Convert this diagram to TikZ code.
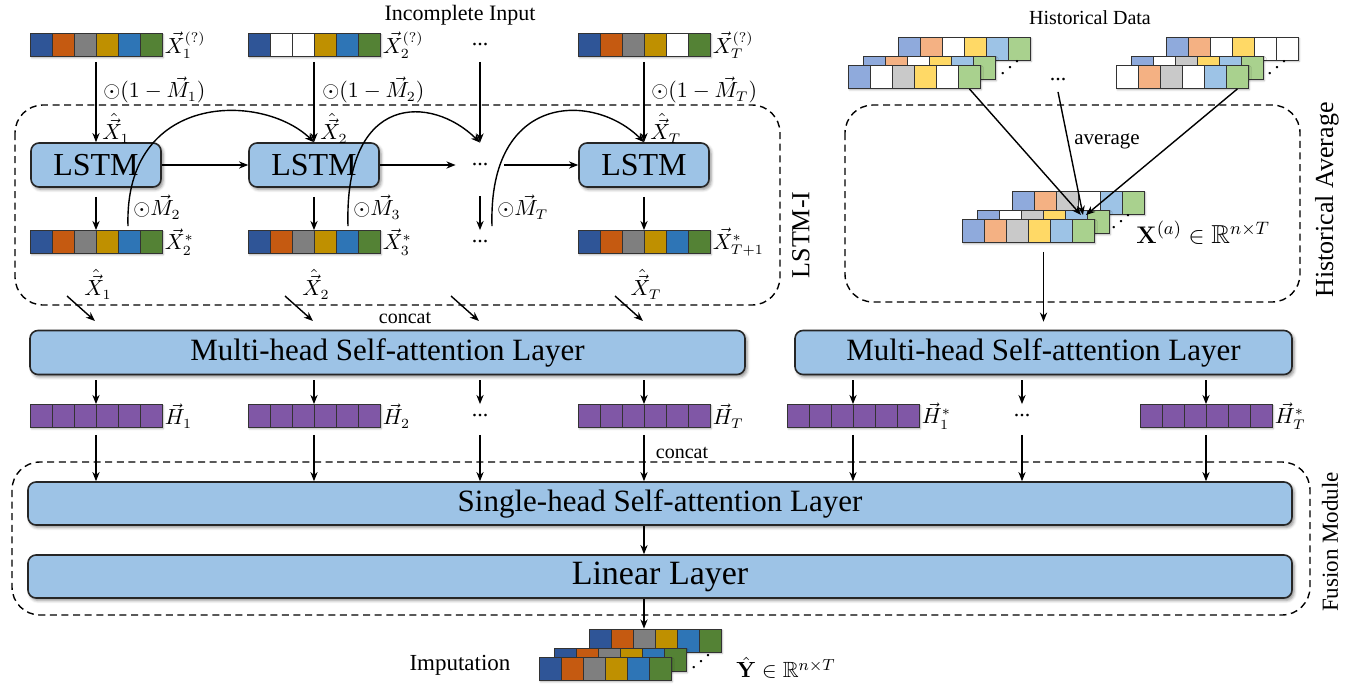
\documentclass[tikz,border=0pt]{standalone}
\usepackage{amsmath}
\usepackage{amssymb}
\usepackage[no-math]{fontspec}
\setmainfont{Liberation Serif}
\usepackage{tikz}
\usetikzlibrary{arrows.meta, positioning, shadows.blur}

% cell colours
\definecolor{dkblue}{HTML}{2F5597}
\definecolor{dkorange}{HTML}{C55A11}
\definecolor{dkgray}{HTML}{7F7F7F}
\definecolor{dkgold}{HTML}{BF9000}
\definecolor{dkcyan}{HTML}{2E75B6}
\definecolor{dkgreen}{HTML}{548235}
\definecolor{ltblue}{HTML}{8FAADC}
\definecolor{ltorange}{HTML}{F4B183}
\definecolor{ltgray}{HTML}{C9C9C9}
\definecolor{ltyellow}{HTML}{FFD966}
\definecolor{ltcyan}{HTML}{9DC3E6}
\definecolor{ltgreen}{HTML}{A9D18E}
\definecolor{hidpurple}{HTML}{8057A6}
\definecolor{layerblue}{HTML}{9DC3E6}

\newcommand{\updots}{\mathinner{\mkern1mu\raise1pt\hbox{.}\mkern2mu\raise4pt\hbox{.}\mkern2mu\raise7pt\hbox{.}\mkern1mu}}

% a row of six cells: name, left x, centre y, colours
\newcommand{\cellrow}[4]{%
  \node[rowbox] (#1) at ({#2+66},{#3}) {};
  \foreach \col [count=\i from 0] in {#4}
    \draw[cell, fill=\col] ({#2+22*\i},{#3-11.5}) rectangle ++(22,23);
}
% three stacked rows: name, left x, centre y of the front row, back, middle, front
\newcommand{\cellstack}[6]{%
  \cellrow{#1b}{#2+50}{#3-28.5}{#4}
  \cellrow{#1m}{#2+15}{#3-9}{#5}
  \cellrow{#1}{#2}{#3}{#6}
}

\begin{document}
\begin{tikzpicture}[x=0.5pt, y=-0.5pt,
    arrow/.style={->, >={Stealth[length=4.6pt, width=3.6pt]}, line width=0.7pt},
    cell/.style={draw=black!80, line width=0.45pt},
    rowbox/.style={rectangle, minimum width=66pt, minimum height=11.5pt, inner sep=0pt, fill=white,
      blur shadow={shadow xshift=0.7pt, shadow yshift=-0.7pt, shadow blur radius=0.8pt, shadow opacity=30}},
    block/.style={rectangle, rounded corners=4pt, draw=black!85, line width=0.8pt, fill=layerblue,
      inner sep=0pt, blur shadow={shadow xshift=1pt, shadow yshift=-1.2pt, shadow blur radius=1.5pt, shadow opacity=45}},
    lstm/.style={block, minimum width=65pt, minimum height=22pt, font=\fontsize{16}{18}\selectfont},
    layer/.style={block, minimum height=22pt, font=\fontsize{15.5}{18}\selectfont},
    group/.style={line width=0.7pt, dash pattern=on 3.5pt off 2.3pt, rounded corners=14pt},
    mlabel/.style={inner sep=1pt, font=\fontsize{10.5}{12}\selectfont},
    caption/.style={inner sep=0pt, font=\fontsize{11}{13}\selectfont},
    dotsnode/.style={inner sep=0pt, minimum height=11.5pt, font=\fontsize{11}{13}\selectfont},
    stackdots/.style={inner sep=0pt}
]
\useasboundingbox (0,0) rectangle (1365,685);

% dashed groups
\draw[group] (15,105) rectangle (780,305);
\draw[group] (845,105) rectangle (1300,302);
\draw[group] (12,462) rectangle (1310,615);
\node[caption, rotate=90, font=\fontsize{13}{15}\selectfont] (lstmi) at (801,235) {LSTM-I};
\node[caption, rotate=90, font=\fontsize{13}{15}\selectfont] (histavg) at (1327,200) {Historical Average};
\node[caption, rotate=90, font=\fontsize{11.5}{14}\selectfont] (fusion) at (1330,542) {Fusion Module};

% incomplete input
\node[caption] (incomplete) at (460,15) {Incomplete Input};
\cellrow{in1}{30}{45}{dkblue,dkorange,dkgray,dkgold,dkcyan,dkgreen}
\cellrow{in2}{248}{45}{dkblue,white,white,dkgold,dkcyan,dkgreen}
\node[dotsnode] (indots) at (480,45) {...};
\cellrow{inT}{578}{45}{dkblue,dkorange,dkgray,dkgold,white,dkgreen}
\node[mlabel, anchor=west] (xin1) at (in1.east) {$\vec{X}_1^{(?)}$};
\node[mlabel, anchor=west] (xin2) at (in2.east) {$\vec{X}_2^{(?)}$};
\node[mlabel, anchor=west] (xinT) at (inT.east) {$\vec{X}_T^{(?)}$};

% LSTM chain
\node[lstm] (lstm1) at (96,165) {LSTM};
\node[lstm] (lstm2) at (314,165) {LSTM};
\node[dotsnode, minimum width=24pt, minimum height=22pt] (lstmdots) at (480,165) {...};
\node[lstm] (lstmT) at (644,165) {LSTM};

\foreach \a/\b in {in1/lstm1, in2/lstm2, indots/lstmdots, inT/lstmT}
  \draw[arrow, shorten <=2.5pt] (\a) -- (\b);
\node[mlabel, anchor=west] (mask1) at (101,90) {$\odot(1-\vec{M}_1)$};
\node[mlabel, anchor=west] (mask2) at (320,90) {$\odot(1-\vec{M}_2)$};
\node[mlabel, anchor=west] (maskT) at (649,90) {$\odot(1-\vec{M}_T)$};
\node[mlabel, anchor=west] (xh1) at (100,128) {$\hat{\vec{X}}_1$};
\node[mlabel, anchor=west] (xh2) at (318,128) {$\hat{\vec{X}}_2$};
\node[mlabel, anchor=west] (xhT) at (648,128) {$\hat{\vec{X}}_T$};

\draw[arrow] (lstm1) -- (lstm2);
\draw[arrow] (lstm2) -- (lstmdots);
\draw[arrow] (lstmdots) -- (lstmT);

% LSTM outputs
\cellrow{out1}{30}{242}{dkblue,dkorange,dkgray,dkgold,dkcyan,dkgreen}
\cellrow{out2}{248}{242}{dkblue,dkorange,dkgray,dkgold,dkcyan,dkgreen}
\node[dotsnode] (outdots) at (480,242) {...};
\cellrow{outT}{578}{242}{dkblue,dkorange,dkgray,dkgold,dkcyan,dkgreen}
\node[mlabel, anchor=west] (xo1) at (out1.east) {$\vec{X}_2^{*}$};
\node[mlabel, anchor=west] (xo2) at (out2.east) {$\vec{X}_3^{*}$};
\node[mlabel, anchor=west] (xoT) at (outT.east) {$\vec{X}_{T+1}^{*}$};

\foreach \a/\b in {lstm1/out1, lstm2/out2, lstmdots/outdots, lstmT/outT}
  \draw[arrow, shorten <=4.5pt] (\a) -- (\b);

% masks fed back into the next step
\draw[arrow] ([xshift=16pt,yshift=2pt]out1.north) .. controls (124,92) and (262,92) .. (lstm2.north);
\draw[arrow] ([xshift=17pt,yshift=2pt]out2.north) .. controls (344,92) and (432,95) .. (lstmdots.north);
\draw[arrow] ([xshift=6pt,yshift=2pt]outdots.north) .. controls (488,92) and (594,92) .. (lstmT.north);
\node[mlabel, anchor=west] (mm2) at (131,207) {$\odot\vec{M}_2$};
\node[mlabel, anchor=west] (mm3) at (351,207) {$\odot\vec{M}_3$};
\node[mlabel, anchor=west] (mmT) at (495,207) {$\odot\vec{M}_T$};

\node[mlabel] (xb1) at (98,284) {$\hat{\vec{X}}_1$};
\node[mlabel] (xb2) at (316,284) {$\hat{\vec{X}}_2$};
\node[mlabel] (xbT) at (646,284) {$\hat{\vec{X}}_T$};
\foreach \n/\x in {1/96, 2/314, 3/480, 4/644} {
  \coordinate (ds\n) at (\x-29,296);
  \coordinate (de\n) at (\x-1,321);
  \draw[arrow] (ds\n) -- (de\n);
}
\node[caption, font=\fontsize{10}{12}\selectfont] (concat1) at (405,318) {concat};

% historical data
\node[caption, font=\fontsize{10}{12}\selectfont] (histdata) at (1090,18) {Historical Data};
\cellstack{hA}{848}{77}{ltblue,ltorange,white,ltyellow,ltcyan,ltgreen}{ltblue,ltorange,white,ltyellow,ltcyan,ltgreen}{ltblue,white,ltgray,ltyellow,white,ltgreen}
\node[stackdots] (hAdots) at (1010,68) {$\updots$};
\node[dotsnode] (hdots) at (1058,80) {...};
\cellstack{hB}{1116}{77}{ltblue,ltorange,white,ltyellow,white,white}{ltblue,white,ltgray,ltyellow,ltcyan,ltgreen}{white,ltorange,ltgray,white,ltcyan,ltgreen}
\node[stackdots] (hBdots) at (1277,68) {$\updots$};

% historical average
\cellstack{avg}{962}{231}{ltblue,ltorange,ltgray,white,ltcyan,ltgreen}{ltblue,white,ltgray,ltyellow,ltcyan,ltgreen}{ltblue,ltorange,ltgray,ltyellow,ltcyan,ltgreen}
\node[stackdots] (avgdots) at (1121,222) {$\updots$};
\node[mlabel, anchor=west, font=\fontsize{13}{15}\selectfont] (xa) at (1134,233) {$\mathbf{X}^{(a)}\in\mathbb{R}^{n\times T}$};
\coordinate (avgin) at (1083,215);
\draw[arrow] ([xshift=-5.5pt]hA.south east) -- ([xshift=-1pt]avgin);
\draw[arrow] (hdots.south) -- (avgin);
\draw[arrow] ([xshift=-5.5pt]hB.south east) -- ([xshift=1.5pt]avgin);
\node[caption, font=\fontsize{10.5}{12}\selectfont] (avglbl) at (1107,141) {average};

% self-attention layers
\node[layer, minimum width=357.5pt] (mhA) at (387.5,352.5) {Multi-head Self-attention Layer};
\node[layer, minimum width=248.5pt] (mhB) at (1043.5,352.5) {Multi-head Self-attention Layer};
\draw[arrow, shorten <=4.5pt, shorten >=4pt] (avg.south -| mhB.north) -- (mhB.north);

\cellrow{h1}{30}{416}{hidpurple,hidpurple,hidpurple,hidpurple,hidpurple,hidpurple}
\cellrow{h2}{248}{416}{hidpurple,hidpurple,hidpurple,hidpurple,hidpurple,hidpurple}
\node[dotsnode] (hdA) at (480,416) {...};
\cellrow{hT}{578}{416}{hidpurple,hidpurple,hidpurple,hidpurple,hidpurple,hidpurple}
\cellrow{hs1}{787}{416}{hidpurple,hidpurple,hidpurple,hidpurple,hidpurple,hidpurple}
\node[dotsnode] (hdB) at (1022,416) {...};
\cellrow{hsT}{1140}{416}{hidpurple,hidpurple,hidpurple,hidpurple,hidpurple,hidpurple}
\node[mlabel, anchor=west] (lh1) at (h1.east) {$\vec{H}_1$};
\node[mlabel, anchor=west] (lh2) at (h2.east) {$\vec{H}_2$};
\node[mlabel, anchor=west] (lhT) at (hT.east) {$\vec{H}_T$};
\node[mlabel, anchor=west] (lhs1) at (hs1.east) {$\vec{H}_1^{*}$};
\node[mlabel, anchor=west] (lhsT) at (hsT.east) {$\vec{H}_T^{*}$};

\foreach \t in {h1, h2, hdA, hT}
  \draw[arrow, shorten <=2.5pt] (mhA.south -| \t) -- (\t);
\foreach \t in {hs1, hdB, hsT}
  \draw[arrow, shorten <=2.5pt] (mhB.south -| \t) -- (\t);

% fusion module
\node[layer, minimum width=632pt, minimum height=21.5pt] (sh) at (660,503.5) {Single-head Self-attention Layer};
\node[layer, minimum width=632pt, minimum height=21.5pt, font=\fontsize{17}{19}\selectfont] (lin) at (660,576.5) {Linear Layer};
\foreach \t in {h1, h2, hdA, hT, hs1, hdB, hsT}
  \draw[arrow, shorten <=3.5pt] (\t) -- (sh.north -| \t);
\node[caption, font=\fontsize{10}{12}\selectfont] (concat2) at (682,453) {concat};
\draw[arrow] (sh.south -| hT) -- (lin.north -| hT);

% imputation
\cellstack{imp}{539}{669}{dkblue,dkorange,dkgray,dkgold,dkcyan,dkgreen}{dkblue,dkorange,dkgray,dkgold,dkcyan,dkgreen}{dkblue,dkorange,dkgray,dkgold,dkcyan,dkgreen}
\node[stackdots] (impdots) at (701,662) {$\updots$};
\draw[arrow] (lin.south -| hT) -- (impb.north -| hT);
\node[caption, font=\fontsize{11.5}{14}\selectfont] (imptext) at (460,665) {Imputation};
\node[mlabel, anchor=west, font=\fontsize{11}{13}\selectfont] (yhat) at (734,668) {$\hat{\mathbf{Y}}\in\mathbb{R}^{n\times T}$};

\end{tikzpicture}
\end{document}
